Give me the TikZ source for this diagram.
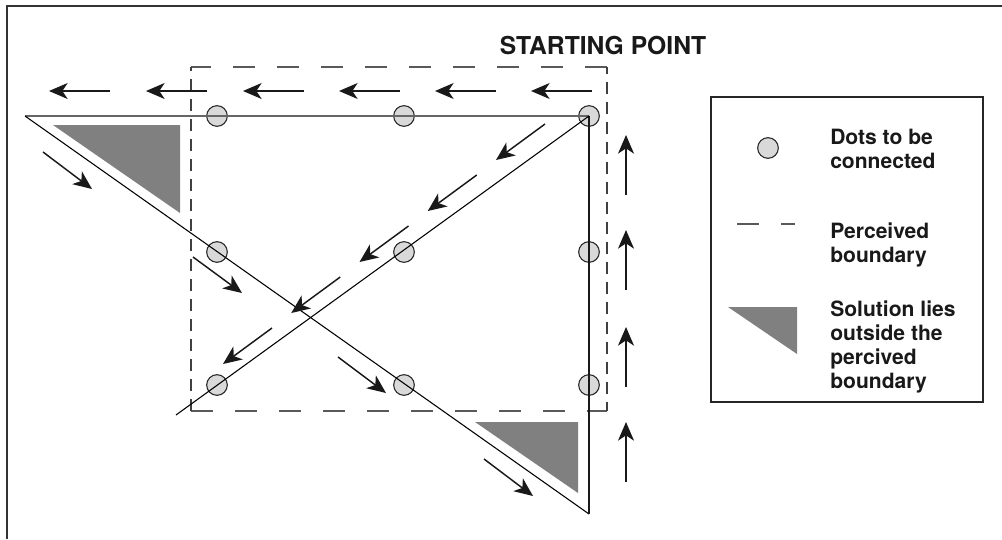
\documentclass[tikz,border=0pt]{standalone}
\usepackage{fontspec}
\setmainfont{TeX Gyre Heros}
\usetikzlibrary{arrows.meta}
\definecolor{shade}{HTML}{808080}
\definecolor{dotfill}{HTML}{D9D9D9}
\begin{document}
\begin{tikzpicture}[x=0.75pt,y=-0.75pt,
  dot/.style={circle,draw=black!85,fill=dotfill,line width=0.8pt,minimum size=15.5pt,inner sep=0pt},
  flow/.style={line width=1.1pt,black!90,-{Stealth[length=14pt,width=12pt,inset=4pt]}},
  hbound/.style={line width=0.9pt,black!65,dash pattern=on 16.5pt off 16.5pt},
  vbound/.style={line width=0.9pt,black!75,dash pattern=on 9pt off 6pt},
  solution/.style={fill=shade},
  legendtext/.style={anchor=west,align=left,inner sep=0pt,font=\fontsize{15.8pt}{18pt}\selectfont\bfseries,text=black!90},
  route/.style={line width=0.8pt,black}
]
\useasboundingbox (0,0) rectangle (1002,539);
% frame
\draw[line width=1.6pt,black!80] (7,539) -- (7,6) -- (1002,6);

% title
\node[inner sep=0pt,font=\fontsize{18.5pt}{22pt}\selectfont\bfseries,text=black!90] (title) at (603,46) {STARTING POINT};

% perceived boundary
\coordinate (b1) at (191,67);
\coordinate (b2) at (607,67);
\coordinate (b3) at (607,411);
\coordinate (b4) at (191,411);
\draw[hbound,dash phase=0pt] (b2) -- (b1);
\draw[hbound] (b4) -- (b3);
\draw[vbound] (b4) -- (b1);
\draw[vbound,dash phase=4pt] (b2) -- (b3);

% solution regions
\fill[solution] (53,125) -- (180,125) -- (180,213) -- cycle;
\fill[solution] (475,422) -- (578,422) -- (578,493) -- cycle;

% the nine dots
\foreach \c/\x in {1/217,2/404,3/589}
  \foreach \r/\y in {1/116,2/252,3/385}
    \node[dot] (d\r\c) at (\x,\y) {};

% the four-line route
\coordinate (tl) at (25,116);
\coordinate (br) at (589,514);
\coordinate (bl) at (176,415);
\draw[line width=1pt,black!60] (d13.center) -- (tl);
\draw[route] (tl) -- (br);
\draw[line width=1.2pt,black!90] (br) -- (d13.center);
\draw[route] (d13.center) -- (bl);

% direction arrows along the top
\foreach \t in {49,146,243,339,435,531}
  \draw[flow] (\t+61,91) -- (\t,91);
% direction arrows along the right side
\foreach \t in {135,230,327,422}
  \draw[flow] (626,\t+60) -- (626,\t);
% direction arrows along the rising diagonal
\foreach \k in {0,...,4}
  \draw[flow] ({545-68.25*\k},{124+51*\k}) -- ({496-68.25*\k},{160+51*\k});
% direction arrows along the falling diagonal
\draw[flow] (43,152) -- (92,189);
\draw[flow] (193,257) -- (242,293);
\draw[flow] (338,357) -- (386,393);
\draw[flow] (484,459) -- (533,496);

% legend
\draw[line width=1.2pt,black!85] (711,97) rectangle (983,402);
\node[dot] (ldot) at (768,148) {};
\draw[hbound] (737,224) -- (795,224);
\fill[solution] (728,307) -- (797,307) -- (797,354) -- cycle;
\node[legendtext] (l1) at (830,149) {Dots to be\\connected};
\node[legendtext] (l2) at (830,245) {Perceived\\boundary};
\node[legendtext] (l3) at (830,347) {Solution lies\\outside the\\percived\\boundary};
\end{tikzpicture}
\end{document}
